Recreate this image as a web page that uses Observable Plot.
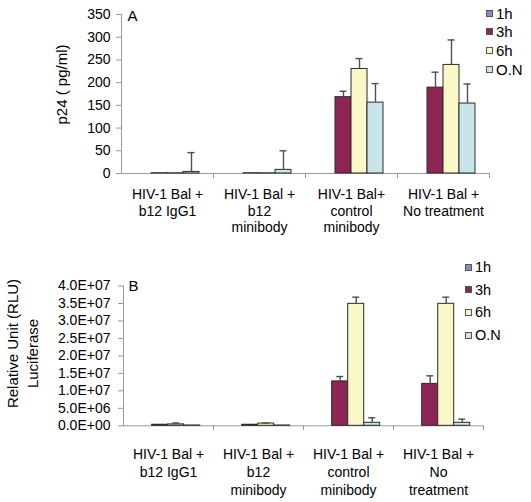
<!DOCTYPE html>
<html><head><meta charset="utf-8">
<script src="https://cdn.jsdelivr.net/npm/d3@7"></script>
<script src="https://cdn.jsdelivr.net/npm/@observablehq/plot@0.6"></script>
<style>
body{margin:0;background:#fff;font-family:"Liberation Sans",Arial,sans-serif;}
#fig{position:relative;width:531px;height:502px;overflow:hidden;background:#fff;}
.panel{position:absolute;left:0;}
.item{position:absolute;display:flex;align-items:center;white-space:nowrap;color:#000;line-height:1;}
.sw{display:inline-block;box-sizing:border-box;border:1px solid #555;width:7px;height:7px;}
</style></head><body><div id="fig"></div>
<script>
// ---- categories & series ----
const series = ["1h", "3h", "6h", "O.N"];
const seriesColors = ["#8a8ac6", "#8e2555", "#fbf8c8", "#c8e5eb"];
const groupsA = ["HIV-1 Bal +\nb12 IgG1", "HIV-1 Bal +\nb12\nminibody", "HIV-1 Bal+\ncontrol\nminibody", "HIV-1 Bal +\nNo treatment"];
const groupsB = ["HIV-1 Bal +\nb12 IgG1", "HIV-1 Bal +\nb12\nminibody", "HIV-1 Bal +\ncontrol\nminibody", "HIV-1 Bal +\nNo\ntreatment"];

// ---- panel A: p24 (pg/ml) ----
const p24_1h = [0, 0, 0, 0];
const p24_3h = [0.5, 0.5, 168, 189];
const p24_6h = [0.5, 0.5, 230, 239];
const p24_ON = [3.5, 8, 156, 154];
const p24Err_1h = [null, null, null, null];
const p24Err_3h = [null, null, 181, 223];
const p24Err_6h = [null, null, 253, 294];
const p24Err_ON = [46, 50, 198, 197];
const ticksA = [0, 50, 100, 150, 200, 250, 300, 350];
const titleA = "p24 ( pg/ml)";
const letterA = "A";

// ---- panel B: Luciferase RLU ----
const rlu_1h = [0, 0, 0, 0];
const rlu_3h = [3e5, 3e5, 1.27e7, 1.2e7];
const rlu_6h = [4e5, 6.5e5, 3.49e7, 3.49e7];
const rlu_ON = [1e5, 1e5, 8.6e5, 8.6e5];
const rluErr_1h = [null, null, null, null];
const rluErr_3h = [null, null, 1.41e7, 1.43e7];
const rluErr_6h = [8e5, 8e5, 3.68e7, 3.68e7];
const rluErr_ON = [null, null, 2.3e6, 1.9e6];
const ticksB = [0, 5e6, 1e7, 1.5e7, 2e7, 2.5e7, 3e7, 3.5e7, 4e7];
const titleB1 = "Relative Unit (RLU)";
const titleB2 = "Luciferase";
const letterB = "B";

function table(groups, vals, errs) {
  const rows = [];
  groups.forEach((g, gi) => series.forEach((s, si) => {
    rows.push({group: g, series: s, value: vals[si][gi], err: errs[si][gi]});
  }));
  return rows;
}
const rowsA = table(groupsA, [p24_1h, p24_3h, p24_6h, p24_ON], [p24Err_1h, p24Err_3h, p24Err_6h, p24Err_ON]);
const rowsB = table(groupsB, [rlu_1h, rlu_3h, rlu_6h, rlu_ON], [rluErr_1h, rluErr_3h, rluErr_6h, rluErr_ON]);

function fmtE(v) {
  if (v === 0) return "0.0E+00";
  const e = Math.floor(Math.log10(v) + 1e-9);
  const m = v / Math.pow(10, e);
  return m.toFixed(1) + "E+" + String(e).padStart(2, "0");
}

const FONT = '"Liberation Sans", Arial, sans-serif';
const AXIS = "#9a9a9a";
const ERR = "#505050";

function panel(o) {
  const band = (531 - o.ml - o.mr) / 4;
  const errRows = o.rows.filter(d => d.err != null);
  return Plot.plot({
    width: 531, height: o.height,
    marginLeft: o.ml, marginRight: o.mr, marginTop: o.mt, marginBottom: o.mb,
    style: {fontFamily: FONT, fontSize: "14px", background: "transparent", color: "#000", overflow: "visible"},
    fx: {domain: o.groups, padding: 0, axis: null, label: null},
    x: {domain: series, paddingInner: 0, paddingOuter: 0.72, axis: null},
    y: {domain: o.ydomain, axis: null},
    color: {domain: series, range: seriesColors},
    marks: [
      Plot.axisY(o.ticks, {tickSize: 5, tickPadding: o.tickPad, stroke: AXIS, fill: "#000", fontSize: 14, label: null, tickFormat: o.fmt}),
      Plot.frame({anchor: "left", facetAnchor: "left", stroke: AXIS}),
      Plot.ruleY([0], {stroke: AXIS}),
      Plot.axisFx({anchor: "bottom", tickSize: 0, tickPadding: o.fxPad, fontSize: 14, lineHeight: o.lh, label: null, fill: "#000"}),
      Plot.axisFx({anchor: "bottom", tickSize: 5, tickFormat: () => "", dx: band / 2, stroke: AXIS, label: null}),
      Plot.barY(o.rows, {fx: "group", x: "series", y: "value", fill: "series", stroke: "#2a2a2a", strokeWidth: 1}),
      Plot.ruleX(errRows, {fx: "group", x: "series", y1: "value", y2: "err", stroke: ERR, strokeWidth: 1.4}),
      Plot.tickY(errRows, {fx: "group", x: "series", y: "err", inset: 4.5, stroke: ERR, strokeWidth: 1.4}),
      ...o.titles.map(t => Plot.text([t.text], {text: d => d, frameAnchor: "left", facetAnchor: "left", rotate: -90, textAnchor: "middle", lineAnchor: "middle", dx: t.dx, dy: t.dy, fontSize: 15, fill: "#000"})),
      Plot.text([o.letter], {text: d => d, frameAnchor: "top-left", facetAnchor: "left", dx: o.letterDx, dy: o.letterDy, lineAnchor: "top", textAnchor: "start", fontSize: 15, fill: "#000"})
    ]
  });
}

const fig = document.getElementById("fig");

const plotA = panel({
  height: 250, ml: 121, mr: 42, mt: 14, mb: 77,
  groups: groupsA, rows: rowsA, ydomain: [0, 350], ticks: ticksA, fmt: d => String(d),
  tickPad: 6, fxPad: 14, lh: 1.18,
  titles: [{text: titleA, dx: -59, dy: -9.5}],
  letter: letterA, letterDx: 6, letterDy: -4
});
plotA.classList.add("panel");
plotA.style.top = "0px";
fig.appendChild(plotA);

const plotB = panel({
  height: 252, ml: 123.3, mr: 47.7, mt: 35.5, mb: 76.7,
  groups: groupsB, rows: rowsB, ydomain: [0, 4e7], ticks: ticksB, fmt: fmtE,
  tickPad: 8, fxPad: 21, lh: 1.26,
  titles: [{text: titleB1, dx: -110, dy: -12.4}, {text: titleB2, dx: -90, dy: -2.4}],
  letter: letterB, letterDx: 5, letterDy: -5.5
});
plotB.classList.add("panel");
plotB.style.top = "250px";
fig.appendChild(plotB);

// ---- legends ----
function legend(left, top, step, fontSize) {
  series.forEach((s, i) => {
    const it = document.createElement("div");
    it.className = "item";
    it.style.left = left + "px";
    it.style.top = (top + i * step - fontSize / 2) + "px";
    it.style.height = fontSize + "px";
    it.style.fontSize = fontSize + "px";
    const sw = document.createElement("span");
    sw.className = "sw";
    sw.style.background = seriesColors[i];
    sw.style.marginRight = "3px";
    const tx = document.createElement("span");
    tx.textContent = s;
    it.appendChild(sw);
    it.appendChild(tx);
    fig.appendChild(it);
  });
}
legend(486, 13.3, 18.6, 15);
legend(465, 267.3, 22.6, 14.5);
</script>
</body></html>
